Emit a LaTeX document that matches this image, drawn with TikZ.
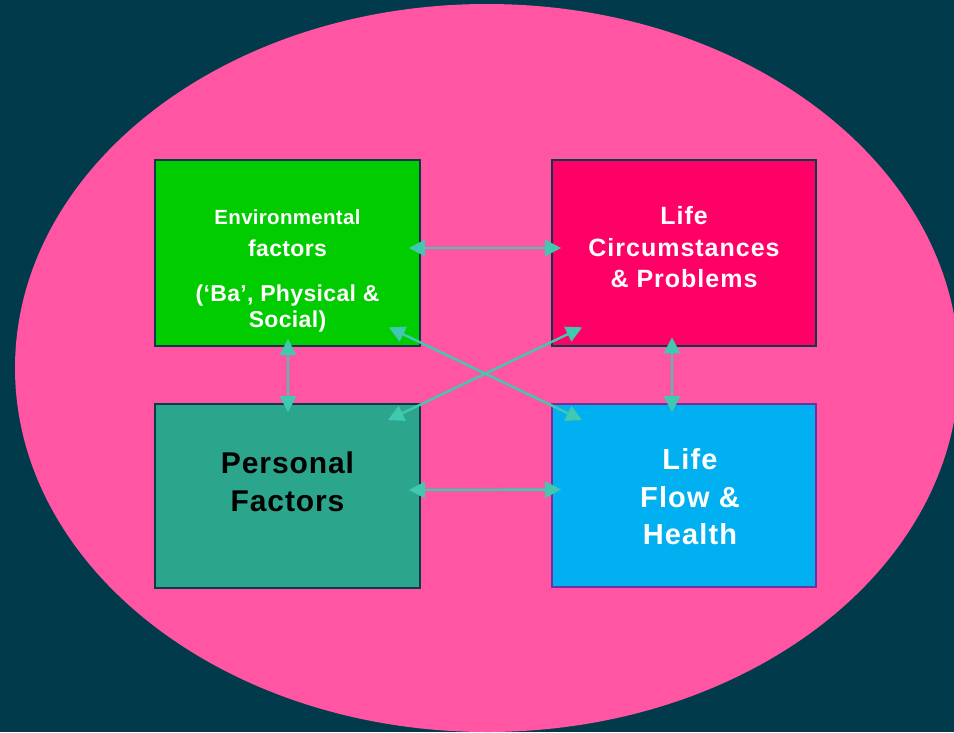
\documentclass[tikz,border=0pt]{standalone}
\usepackage{fontspec}
\setmainfont{Liberation Sans}[LetterSpace=4]
\newfontfamily\envfont{Liberation Sans}[LetterSpace=1.5]
\newfontfamily\persfont{Liberation Sans}[LetterSpace=3]
\usetikzlibrary{arrows.meta}
\definecolor{bgc}{HTML}{013B4B}
\definecolor{ellc}{HTML}{FF55A3}
\definecolor{envc}{HTML}{00CC00}
\definecolor{circc}{HTML}{FF0066}
\definecolor{persc}{HTML}{2CA58D}
\definecolor{flowc}{HTML}{00B0F0}
\definecolor{arrc}{HTML}{40C9B0}
\definecolor{edgec}{HTML}{0B3A4A}
\definecolor{purpc}{HTML}{7030A0}
\tikzset{
  box/.style={draw=edgec, line width=1.6pt, minimum width=265pt, minimum height=185pt, inner sep=0pt},
  boxtext/.style={align=center, font=\bfseries, text=white},
  arr/.style={draw=arrc, line width=2.4pt, {Triangle[length=16pt,width=16pt]}-{Triangle[length=16pt,width=16pt]}}
}
\begin{document}
\begin{tikzpicture}[x=1pt,y=-1pt]
\useasboundingbox (0,0) rectangle (954,732);
\fill[bgc] (0,0) rectangle (954,732);
\begin{scope}
\clip (0,0) rectangle (954,732);
\fill[ellc] (487,368) ellipse [x radius=472, y radius=364];
\end{scope}
% boxes
\node[box, fill=envc, minimum width=265pt, minimum height=186pt] (env) at (287.5,253) {};
\node[box, fill=circc, minimum width=264pt, minimum height=186pt] (lc) at (684,253) {};
\node[box, fill=persc, minimum width=265pt, minimum height=184pt] (pers) at (287.5,496) {};
\node[box, draw=purpc, fill=flowc, minimum width=264pt, minimum height=183pt] (lf) at (684,495.5) {};
% texts
\node[boxtext, font=\envfont\bfseries\fontsize{23}{26}\selectfont] (envtext) at ([yshift=-18]env.center)
  {{\fontsize{20.5}{26}\selectfont Environmental}\\[6pt] factors\\[19pt] (‘Ba’, Physical \&\\ Social)};
\node[boxtext, font=\bfseries\fontsize{25}{31.5}\selectfont] (lctext) at ([yshift=5.5]lc.center)
  {Life\\ Circumstances\\ \& Problems};
\node[boxtext, text=black, font=\persfont\bfseries\fontsize{30}{38}\selectfont] (perstext) at ([yshift=14]pers.center)
  {Personal\\ Factors};
\node[boxtext, font=\bfseries\fontsize{29}{37.5}\selectfont] (lftext) at ([xshift=6,yshift=-1.5]lf.center)
  {Life\\ Flow \&\\ Health};
% connectors
\draw[arr] ([shift={(-12,-5)}]env.east) -- ([shift={(10,-5)}]lc.west);
\draw[arr] ([shift={(-12,-6)}]pers.east) -- ([shift={(10,-6)}]lf.west);
\draw[arr] ([shift={(0.5,-8)}]env.south) -- ([shift={(0.5,9)}]pers.north);
\draw[arr] ([shift={(-12,-9.5)}]lc.south) -- ([shift={(-12,9)}]lf.north);
\draw[arr] ([shift={(-32,-19.5)}]env.south east) -- ([shift={(31,17)}]lf.north west);
\draw[arr] ([shift={(-33,17)}]pers.north east) -- ([shift={(31,-19.5)}]lc.south west);
\end{tikzpicture}
\end{document}
